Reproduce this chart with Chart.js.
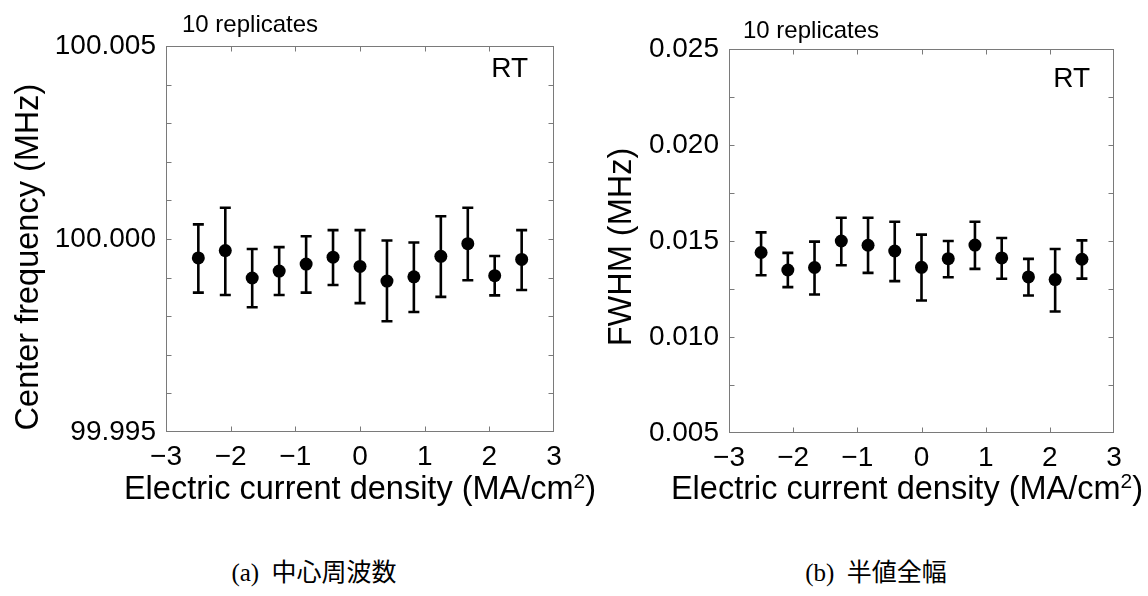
<!DOCTYPE html>
<html>
<head>
<meta charset="utf-8">
<script src="https://cdn.jsdelivr.net/npm/chart.js@4"></script>
<style>
  html, body { margin: 0; padding: 0; background: #fff; }
  body { width: 1148px; height: 596px; position: relative; overflow: hidden; }
  canvas { position: absolute; top: 0; }
  .caption {
    position: absolute; top: 558px; width: 300px; text-align: center;
    font-family: "Liberation Serif", "Noto Sans CJK JP", serif; font-size: 25px; line-height: 30px; color: #000;
    white-space: pre;
  }
</style>
</head>
<body>
<canvas id="freqChart" width="620" height="520" style="left:0"></canvas>
<canvas id="fwhmChart" width="574" height="520" style="left:574px"></canvas>
<div class="caption" style="left:164px">(a)  中心周波数</div>
<div class="caption" style="left:726px">(b)  半値全幅</div>

<script>
// current density of each run (MA/cm2), same for both panels
const currentDensity = [-2.5, -2.083, -1.667, -1.25, -0.833, -0.417, 0, 0.417, 0.833, 1.25, 1.667, 2.083, 2.5];
const xTicks = [-3, -2, -1, 0, 1, 2, 3];

// center frequency (MHz): mean and error bar ends
const freqMean = [99.99951, 99.99970, 99.99899, 99.99917, 99.99935, 99.99953, 99.99929, 99.99891, 99.99902, 99.99955, 99.99988, 99.99905, 99.99947];
const freqHigh = [100.00038, 100.00081, 99.99974, 99.99979, 100.00007, 100.00023, 100.00023, 99.99996, 99.99991, 100.00059, 100.00081, 99.99956, 100.00023];
const freqLow  = [99.99861, 99.99855, 99.99823, 99.99855, 99.99861, 99.99881, 99.99834, 99.99787, 99.99811, 99.99850, 99.99893, 99.99854, 99.99868];
const freqTicks = [99.995, 100.000, 100.005];
const freqMinor = 0.001;

// FWHM (MHz): mean and error bar ends
const fwhmMean = [0.01440, 0.01349, 0.01362, 0.01500, 0.01478, 0.01448, 0.01363, 0.01408, 0.01479, 0.01412, 0.01313, 0.01299, 0.01405];
const fwhmHigh = [0.01545, 0.01438, 0.01497, 0.01621, 0.01621, 0.01600, 0.01533, 0.01500, 0.01600, 0.01516, 0.01407, 0.01458, 0.01503];
const fwhmLow  = [0.01322, 0.01260, 0.01221, 0.01374, 0.01334, 0.01291, 0.01190, 0.01311, 0.01355, 0.01303, 0.01216, 0.01133, 0.01304];
const fwhmTicks = [0.005, 0.010, 0.015, 0.020, 0.025];
const fwhmMinor = 0.0025;

const FONT = '"Liberation Sans", Arial, sans-serif';
const FRAME = '#7a7a7a';
const TITLE_SIZE = 32.5;

function makePanel(id, p) {
  const decor = {
    id: 'decor',
    beforeDatasetsDraw(chart) {
      const {ctx, scales: {x, y}} = chart;
      ctx.save();
      ctx.strokeStyle = '#000';
      ctx.lineWidth = 2.6;
      currentDensity.forEach((v, i) => {
        const px = x.getPixelForValue(v);
        const hi = y.getPixelForValue(p.high[i]);
        const lo = y.getPixelForValue(p.low[i]);
        ctx.beginPath();
        ctx.moveTo(px, hi); ctx.lineTo(px, lo);
        ctx.moveTo(px - 5.5, hi); ctx.lineTo(px + 5.5, hi);
        ctx.moveTo(px - 5.5, lo); ctx.lineTo(px + 5.5, lo);
        ctx.stroke();
      });
      ctx.restore();
    },
    afterDraw(chart) {
      const {ctx, chartArea: a, scales: {x, y}} = chart;
      ctx.save();
      // frame and inward ticks
      ctx.strokeStyle = FRAME;
      ctx.lineWidth = 1;
      const L = Math.round(a.left) + 0.5, R = Math.round(a.right) - 0.5;
      const T = Math.round(a.top) + 0.5, B = Math.round(a.bottom) - 0.5;
      ctx.strokeRect(L, T, R - L, B - T);
      ctx.beginPath();
      xTicks.slice(1, -1).forEach(v => {
        const px = Math.round(x.getPixelForValue(v)) + 0.5;
        ctx.moveTo(px, B); ctx.lineTo(px, B - 5);
        ctx.moveTo(px, T); ctx.lineTo(px, T + 5);
      });
      const n = Math.round((y.max - y.min) / p.minor);
      for (let k = 1; k < n; k++) {
        const py = Math.round(y.getPixelForValue(y.min + k * p.minor)) + 0.5;
        ctx.moveTo(L, py); ctx.lineTo(L + 5, py);
        ctx.moveTo(R, py); ctx.lineTo(R - 5, py);
      }
      ctx.stroke();

      ctx.fillStyle = '#000';
      ctx.textBaseline = 'alphabetic';
      ctx.font = '24px ' + FONT;
      ctx.textAlign = 'left';
      ctx.fillText('10 replicates', p.repX, p.repY);
      ctx.font = '28px ' + FONT;
      ctx.textAlign = 'right';
      ctx.fillText('RT', p.rtX, p.rtY);

      // y axis title
      ctx.save();
      ctx.font = TITLE_SIZE + 'px ' + FONT;
      ctx.translate(p.yTitleX, p.yTitleY);
      ctx.rotate(-Math.PI / 2);
      ctx.textAlign = 'center';
      ctx.textBaseline = 'middle';
      ctx.fillText(p.yTitle, 0, 0);
      ctx.restore();

      // x axis title with superscript
      const main = 'Electric current density (MA/cm', sup = '2', tail = ')';
      ctx.textAlign = 'left';
      ctx.font = TITLE_SIZE + 'px ' + FONT;
      const w1 = ctx.measureText(main).width, w3 = ctx.measureText(tail).width;
      ctx.font = '21px ' + FONT;
      const w2 = ctx.measureText(sup).width;
      const sx = p.xTitleX - (w1 + w2 + w3) / 2;
      ctx.font = TITLE_SIZE + 'px ' + FONT;
      ctx.fillText(main, sx, p.xTitleY);
      ctx.font = '21px ' + FONT;
      ctx.fillText(sup, sx + w1, p.xTitleY - 11);
      ctx.font = TITLE_SIZE + 'px ' + FONT;
      ctx.fillText(tail, sx + w1 + w2, p.xTitleY);
      ctx.restore();
    }
  };

  return new Chart(document.getElementById(id), {
    type: 'scatter',
    data: {
      datasets: [{
        data: currentDensity.map((v, i) => ({x: v, y: p.mean[i]})),
        pointRadius: 6.5,
        pointHoverRadius: 6.5,
        backgroundColor: '#000',
        borderWidth: 0
      }]
    },
    options: {
      responsive: false,
      animation: false,
      events: [],
      layout: { padding: { left: 0, top: p.top, right: p.right, bottom: 0 } },
      plugins: { legend: { display: false }, tooltip: { enabled: false } },
      scales: {
        x: {
          type: 'linear', min: -3, max: 3,
          grid: { display: false, drawTicks: false }, border: { display: false },
          afterBuildTicks: s => { s.ticks = xTicks.map(v => ({value: v})); },
          afterFit: s => { s.height = p.xAxisH; },
          ticks: {
            padding: 8, color: '#000', font: { family: FONT, size: 28 },
            callback: v => v < 0 ? '\u2212' + Math.abs(v) : String(v)
          }
        },
        y: {
          type: 'linear', min: p.ticks[0], max: p.ticks[p.ticks.length - 1],
          grid: { display: false, drawTicks: false }, border: { display: false },
          afterBuildTicks: s => { s.ticks = p.ticks.map(v => ({value: v})); },
          afterFit: s => { s.width = p.yAxisW; },
          ticks: {
            padding: 10, color: '#000', font: { family: FONT, size: 28 },
            callback: v => Number(v).toFixed(3)
          }
        }
      }
    },
    plugins: [decor]
  });
}

makePanel('freqChart', {
  mean: freqMean, high: freqHigh, low: freqLow, ticks: freqTicks, minor: freqMinor,
  top: 46, right: 66, yAxisW: 166, xAxisH: 88,
  repX: 182, repY: 32, rtX: 528, rtY: 77,
  yTitle: 'Center frequency (MHz)', yTitleX: 29, yTitleY: 257,
  xTitleX: 360, xTitleY: 499
});

makePanel('fwhmChart', {
  mean: fwhmMean, high: fwhmHigh, low: fwhmLow, ticks: fwhmTicks, minor: fwhmMinor,
  top: 49, right: 34, yAxisW: 155, xAxisH: 87,
  repX: 169, repY: 38, rtX: 516, rtY: 87,
  yTitle: 'FWHM (MHz)', yTitleX: 48, yTitleY: 247,
  xTitleX: 333, xTitleY: 499
});
</script>
</body>
</html>
